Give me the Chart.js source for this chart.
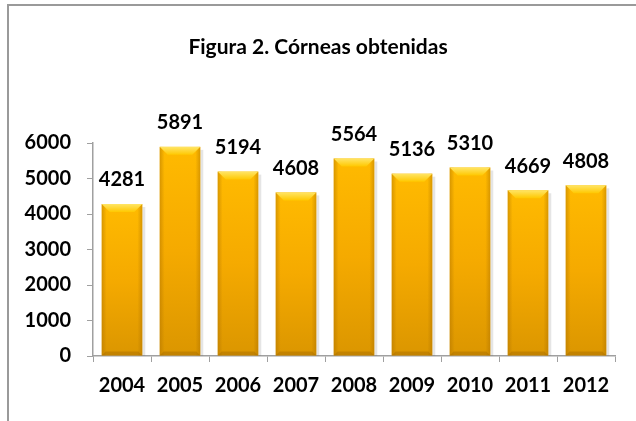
<!DOCTYPE html>
<html>
<head>
<meta charset="utf-8">
<script src="https://cdn.jsdelivr.net/npm/chart.js@4.4.0/dist/chart.umd.min.js"></script>
<style>
  html, body { margin: 0; padding: 0; background: #fff; }
  #wrap { position: relative; width: 636px; height: 421px; overflow: hidden; }
  #frame { position: absolute; left: 7px; top: 4px; width: 700px; height: 500px;
           border-left: 2px solid #9a9a9a; border-top: 2px solid #9a9a9a; }
  canvas { position: absolute; left: 0; top: 0; }
</style>
</head>
<body>
<div id="wrap">
  <div id="frame"></div>
  <canvas id="grafico" width="636" height="421"></canvas>
</div>
<script>
// datos de la figura
const titulo = 'Figura 2. Córneas obtenidas';
const anos = ['2004', '2005', '2006', '2007', '2008', '2009', '2010', '2011', '2012'];
const corneas = [4281, 5891, 5194, 4608, 5564, 5136, 5310, 4669, 4808];
const ticksY = [0, 1000, 2000, 3000, 4000, 5000, 6000];

const FONT = 'Lato, "Open Sans", sans-serif';

// relleno con efecto bisel para cada barra
const biselPlugin = {
  id: 'bisel',
  afterDatasetsDraw(chart) {
    const ctx = chart.ctx;
    const meta = chart.getDatasetMeta(0);
    meta.data.forEach(bar => {
      const p = bar.getProps(['x', 'y', 'base', 'width'], true);
      const l = p.x - p.width / 2, r = p.x + p.width / 2;
      const t = p.y, b = p.base;
      const bv = 8;
      ctx.save();
      // sombra
      ctx.fillStyle = 'rgba(0,0,0,0.10)';
      ctx.fillRect(r, t + 3, 3, b - t - 3);
      // cuerpo
      let g = ctx.createLinearGradient(0, t, 0, b);
      g.addColorStop(0, '#FFBA00');
      g.addColorStop(0.5, '#F5AA00');
      g.addColorStop(1, '#DB9600');
      ctx.fillStyle = g;
      ctx.fillRect(l, t, r - l, b - t);
      // bordes laterales
      let gh = ctx.createLinearGradient(l, 0, r, 0);
      gh.addColorStop(0, 'rgba(170,110,0,0.45)');
      gh.addColorStop(0.12, 'rgba(170,110,0,0)');
      gh.addColorStop(0.88, 'rgba(170,110,0,0)');
      gh.addColorStop(1, 'rgba(170,110,0,0.45)');
      ctx.fillStyle = gh;
      ctx.fillRect(l, t, r - l, b - t);
      // bisel superior
      ctx.beginPath();
      ctx.moveTo(l, t);
      ctx.lineTo(r, t);
      ctx.lineTo(r - bv, t + bv);
      ctx.lineTo(l + bv, t + bv);
      ctx.closePath();
      let gt = ctx.createLinearGradient(0, t, 0, t + bv);
      gt.addColorStop(0, '#FFE566');
      gt.addColorStop(1, '#FFC800');
      ctx.fillStyle = gt;
      ctx.fill();
      // bisel inferior
      ctx.beginPath();
      ctx.moveTo(l, b);
      ctx.lineTo(r, b);
      ctx.lineTo(r - 4, b - 4);
      ctx.lineTo(l + 4, b - 4);
      ctx.closePath();
      ctx.fillStyle = 'rgba(150,95,0,0.35)';
      ctx.fill();
      ctx.restore();
    });
  }
};

// etiquetas de valor y titulo
const etiquetasPlugin = {
  id: 'etiquetas',
  afterDraw(chart) {
    const ctx = chart.ctx;
    const meta = chart.getDatasetMeta(0);
    ctx.save();
    ctx.fillStyle = '#000';
    ctx.textAlign = 'center';
    ctx.textBaseline = 'middle';
    ctx.font = 'bold 21px ' + FONT;
    ctx.fillText(titulo, 318, 47);
    ctx.font = 'bold 20px ' + FONT;
    meta.data.forEach((bar, i) => {
      ctx.fillText(String(corneas[i]), bar.x, bar.y - 24);
    });
    ctx.restore();
  }
};

const ctx = document.getElementById('grafico').getContext('2d');
new Chart(ctx, {
  type: 'bar',
  data: {
    labels: anos,
    datasets: [{
      data: corneas,
      backgroundColor: 'rgba(0,0,0,0)',
      borderWidth: 0,
      barPercentage: 0.7,
      categoryPercentage: 1
    }]
  },
  options: {
    responsive: false,
    animation: false,
    layout: { padding: { left: 0, right: 21, top: 143, bottom: 0 } },
    plugins: {
      legend: { display: false },
      tooltip: { enabled: false },
      title: { display: false }
    },
    scales: {
      y: {
        min: 0,
        max: 6000,
        afterFit(scale) { scale.width = 93; },
        afterBuildTicks(scale) { scale.ticks = ticksY.map(v => ({ value: v })); },
        grid: { drawOnChartArea: false, color: '#a0a0a0', tickLength: 6, lineWidth: 1 },
        border: { color: '#a0a0a0', width: 1.5 },
        ticks: {
          color: '#000',
          padding: 16,
          callback: v => String(v),
          font: { family: FONT, size: 20, weight: 'bold' }
        }
      },
      x: {
        afterFit(scale) { scale.height = 65; },
        grid: { drawOnChartArea: false, offset: true, color: '#a0a0a0', tickLength: 6 },
        border: { color: '#a0a0a0', width: 1.5 },
        ticks: {
          color: '#000',
          padding: 12,
          font: { family: FONT, size: 20, weight: 'bold' }
        }
      }
    }
  },
  plugins: [biselPlugin, etiquetasPlugin]
});
</script>
</body>
</html>
